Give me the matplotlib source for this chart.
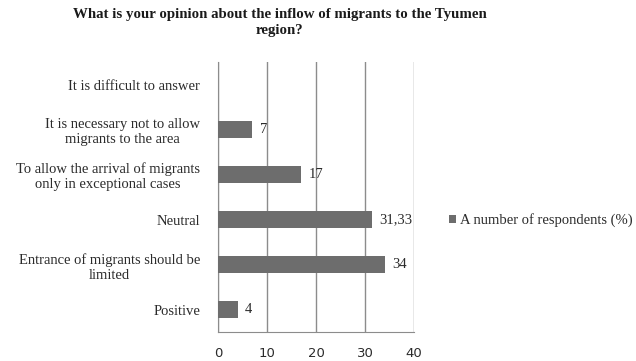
import matplotlib.pyplot as plt
import numpy as np

categories = [
    'Positive',
    'Entrance of migrants should be\nlimited',
    'Neutral',
    'To allow the arrival of migrants\nonly in exceptional cases',
    'It is necessary not to allow\nmigrants to the area',
    'It is difficult to answer',
]
values = [4, 34, 31.33, 17, 7, 0]
value_labels = ['4', '34', '31,33', '17', '7', '']
series_name = 'A number of respondents (%)'
x_ticks = [0, 10, 20, 30, 40]

plt.rcParams['font.family'] = ['Liberation Serif', 'DejaVu Serif']
text_color = '#2b2b2b'
bar_color = '#6d6d6d'

fig = plt.figure(figsize=(6.36, 3.61), dpi=100)
ax = fig.add_axes([0.343, 0.080, 0.308, 0.748])

y = np.arange(len(categories))
bars = ax.barh(y, values, height=0.38, color=bar_color, label=series_name, zorder=3)

for b, lab in zip(bars, value_labels):
    if lab:
        ax.text(b.get_width() + 1.5, b.get_y() + b.get_height() / 2, lab,
                va='center', ha='left', fontsize=10.5, color=text_color)

ax.set_xlim(0, 40)
ax.set_ylim(-0.5, len(categories) - 0.5)
ax.set_xticks(x_ticks)
ax.set_xticklabels([str(t) for t in x_ticks], fontsize=9.5, color=text_color,
                   family='DejaVu Sans')
ax.set_yticks(y)
ax.set_yticklabels(categories, fontsize=10.5, color=text_color, multialignment='center')
ax.tick_params(axis='both', length=0)
ax.tick_params(axis='y', pad=13)
ax.tick_params(axis='x', pad=11)

ax.grid(axis='x', color='#8c8c8c', linewidth=1, zorder=0)
for side in ['top', 'right']:
    ax.spines[side].set_visible(False)
ax.spines['left'].set_color('#8c8c8c')
ax.spines['bottom'].set_color('#8c8c8c')

fig.text(0.44, 0.978, 'What is your opinion about the inflow of migrants to the Tyumen\nregion?',
         ha='center', va='top', fontsize=10.7, fontweight='bold', color='#1a1a1a',
         multialignment='center', linespacing=1.3)

fig.legend(loc='center left', bbox_to_anchor=(0.685, 0.39), frameon=False,
           fontsize=10.5, handlelength=0.5, handleheight=0.5, handletextpad=0.25,
           labelcolor=text_color)

plt.savefig('out.png', dpi=100)
